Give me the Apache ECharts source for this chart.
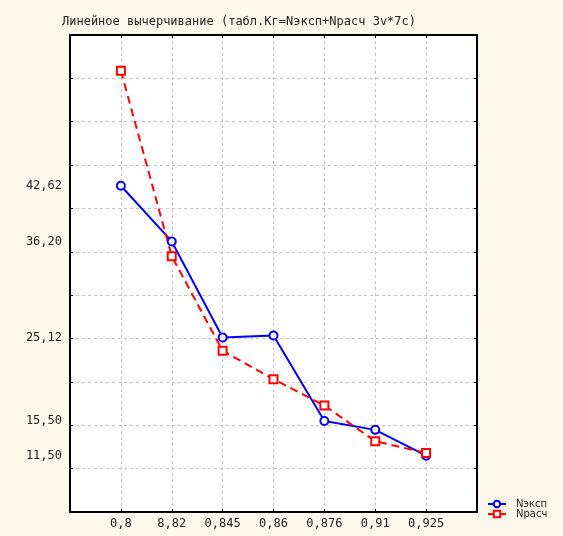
<!DOCTYPE html>
<html>
<head>
<meta charset="utf-8">
<title>Линейное вычерчивание</title>
<script src="https://cdn.jsdelivr.net/npm/echarts@6/dist/echarts.min.js"></script>
<style>
    html, body { margin: 0; padding: 0; background: #fcf8ec; }
    #chart { width: 563px; height: 536px; }
</style>
</head>
<body>
<div id="chart"></div>
<script>
// категории по оси X
const categories = ['0,8', '8,82', '0,845', '0,86', '0,876', '0,91', '0,925'];
// ряды
const nExp = [42.62, 36.20, 25.12, 25.35, 15.50, 14.47, 11.50];
const nCalc = [55.87, 34.50, 23.58, 20.32, 17.28, 13.16, 11.81];
// подписи оси Y (стоят по значениям, а не по сетке)
const yLabelValues = [42.62, 36.20, 25.12, 15.50, 11.50];
// засечки/сетка оси Y
const yTickValues = [5, 10, 15, 20, 25, 30, 35, 40, 45, 50, 55, 60];

const monoFont = 'DejaVu Sans Mono';

// по краям пустые категории, чтобы точки стояли на внутренних линиях сетки
const axisData = [''].concat(categories, ['']);
const pad = arr => [null].concat(arr, [null]);

const gridLine = { color: '#c4c4c4', type: [3, 3], width: 1 };
const frameLine = { color: '#000', width: 2 };

const chart = echarts.init(document.getElementById('chart'));

chart.setOption({
    backgroundColor: '#fcf8ec',
    animation: false,
    title: {
        text: 'Линейное вычерчивание (табл.Кг=Nэксп+Nрасч 3v*7c)',
        left: 57,
        top: 11,
        textStyle: {
            fontFamily: monoFont,
            fontSize: 12,
            fontWeight: 'normal',
            color: '#222'
        }
    },
    legend: {
        orient: 'vertical',
        left: 482,
        top: 494,
        itemWidth: 18,
        itemHeight: 8,
        itemGap: 0,
        textStyle: {
            fontFamily: 'DejaVu Sans',
            fontSize: 10,
            lineHeight: 10,
            padding: [0, 0, 0, 5],
            color: '#222'
        },
        data: ['Nэксп', 'Nрасч']
    },
    grid: {
        left: 70,
        right: 86,
        top: 35,
        bottom: 24,
        show: true,
        backgroundColor: '#fff',
        borderWidth: 0
    },
    xAxis: [
        {
            type: 'category',
            boundaryGap: false,
            data: axisData,
            axisLine: { lineStyle: frameLine },
            axisTick: { inside: true, length: 3, lineStyle: { color: '#000' } },
            axisLabel: {
                interval: 0,
                margin: 6,
                fontFamily: monoFont,
                fontSize: 12,
                color: '#222'
            },
            splitLine: { show: true, lineStyle: gridLine }
        },
        {
            // верхняя рамка
            type: 'category',
            position: 'top',
            boundaryGap: false,
            data: axisData,
            axisLine: { lineStyle: frameLine },
            axisTick: { inside: true, length: 3, lineStyle: { color: '#000' } },
            axisLabel: { show: false },
            splitLine: { show: false }
        }
    ],
    yAxis: [
        {
            type: 'value',
            min: 5,
            max: 60,
            interval: 5,
            axisLine: { show: true, lineStyle: frameLine },
            axisTick: {
                show: true,
                inside: true,
                length: 3,
                customValues: yTickValues,
                lineStyle: { color: '#000' }
            },
            axisLabel: {
                customValues: yLabelValues,
                margin: 8,
                fontFamily: monoFont,
                fontSize: 12,
                color: '#222',
                formatter: v => v.toFixed(2).replace('.', ',')
            },
            splitLine: { show: true, lineStyle: gridLine }
        },
        {
            // правая рамка
            type: 'value',
            position: 'right',
            min: 5,
            max: 60,
            interval: 5,
            axisLine: { show: true, lineStyle: frameLine },
            axisTick: { show: true, inside: true, length: 3, lineStyle: { color: '#000' } },
            axisLabel: { show: false },
            splitLine: { show: false }
        }
    ],
    series: [
        {
            name: 'Nэксп',
            type: 'line',
            data: pad(nExp),
            symbol: 'emptyCircle',
            symbolSize: 8,
            itemStyle: { color: '#0000ff', borderWidth: 2 },
            lineStyle: { color: '#0000ff', width: 2 }
        },
        {
            name: 'Nрасч',
            type: 'line',
            data: pad(nCalc),
            symbol: 'emptyRect',
            symbolSize: 8,
            itemStyle: { color: '#ff0000', borderWidth: 2 },
            lineStyle: { color: '#ff0000', width: 2, type: [8, 5] }
        }
    ]
});
</script>
</body>
</html>
